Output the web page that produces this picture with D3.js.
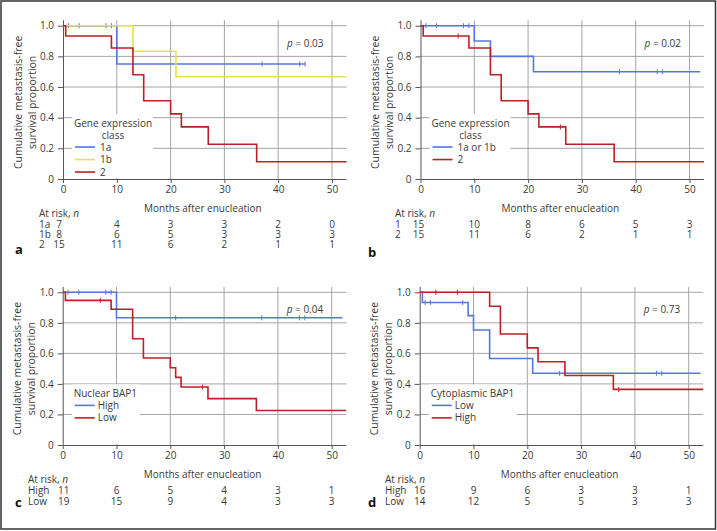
<!DOCTYPE html>
<html>
<head>
<meta charset="utf-8">
<script src="https://cdn.jsdelivr.net/npm/d3@7"></script>
<style>
  body { margin: 0; background: #fff; }
  svg { display: block; font-family: "Open Sans", sans-serif; }
</style>
</head>
<body>
<script>
var svgWidth = 717;
var svgHeight = 531;

// shared axes
var months = [0, 10, 20, 30, 40, 50];
var survTicks = [0, 0.2, 0.4, 0.6, 0.8, 1.0];
var maxMonth = 52.7;

// panel a: gene expression class (1a / 1b / 2)
var a1aSteps = [[0, 1], [10, 0.75]];
var a1aCensor = [1, 3, 8, 9, 37, 44, 45];
var a1aEnd = 45;
var a1bSteps = [[0, 1], [13, 0.833], [21, 0.667]];
var a1bCensor = [];
var a1bEnd = 52.7;
var a2Steps = [[0, 1], [0.5, 0.933], [9, 0.855], [13, 0.68], [15, 0.51], [20, 0.425], [22, 0.34], [27, 0.227], [36, 0.113]];
var a2Censor = [];
var a2End = 52.7;
var aRisk1a = [7, 4, 3, 3, 2, 0];
var aRisk1b = [8, 6, 5, 3, 3, 3];
var aRisk2 = [15, 11, 6, 2, 1, 1];

// panel b: 1a or 1b vs 2
var b1Steps = [[0, 1], [10, 0.9], [13, 0.8], [21, 0.7]];
var b1Censor = [1, 3, 8, 9, 37, 44, 45];
var b1End = 52;
var b2Steps = [[0, 1], [0.5, 0.933], [9, 0.855], [13, 0.68], [15, 0.51], [20, 0.425], [22, 0.34], [27, 0.227], [36, 0.113]];
var b2Censor = [7, 26];
var b2End = 52.7;
var bRisk1 = [15, 10, 8, 6, 5, 3];
var bRisk2 = [15, 11, 6, 2, 1, 1];

// panel c: nuclear BAP1
var cHighSteps = [[0, 1], [10, 0.833]];
var cHighCensor = [1, 3, 8, 9, 21, 37, 44, 45];
var cHighEnd = 52;
var cLowSteps = [[0, 1], [0.5, 0.947], [9, 0.889], [13, 0.696], [15, 0.57], [20, 0.506], [21, 0.443], [22, 0.38], [27, 0.304], [36, 0.226]];
var cLowCensor = [7, 26];
var cLowEnd = 52.7;
var cRiskHigh = [11, 6, 5, 4, 3, 1];
var cRiskLow = [19, 15, 9, 4, 3, 3];

// panel d: cytoplasmic BAP1
var dLowSteps = [[0, 1], [0.5, 0.933], [9, 0.847], [10, 0.753], [13, 0.566], [21, 0.47]];
var dLowCensor = [1, 2, 8, 26, 44, 45];
var dLowEnd = 52.2;
var dHighSteps = [[0, 1], [13, 0.909], [15, 0.727], [20, 0.636], [22, 0.545], [27, 0.455], [36, 0.364]];
var dHighCensor = [3, 7, 37];
var dHighEnd = 52.7;
var dRiskHigh = [16, 9, 6, 3, 3, 1];
var dRiskLow = [14, 12, 5, 5, 3, 3];

var blue = "#5677dc";
var yellow = "#e4e34c";
var red = "#bb2029";
var textColor = "#3a3a3a";
var fs = "10px";

var svg = d3.select("body")
  .append("svg")
  .attr("width", svgWidth)
  .attr("height", svgHeight);

svg.append("rect")
  .attr("x", 1).attr("y", 1)
  .attr("width", svgWidth - 2.5).attr("height", svgHeight - 3)
  .attr("fill", "none")
  .attr("stroke", "#333")
  .attr("stroke-width", 1.5);

var panels = [
  {
    letter: "a", x0: 63, bottom: 179, h: 153.3, p: "0.03",
    legendTitle: ["Gene expression", "class"], titleCentered: true, legendRight: 90,
    series: [
      { name: "1a", steps: a1aSteps, censor: a1aCensor, end: a1aEnd, color: blue },
      { name: "1b", steps: a1bSteps, censor: a1bCensor, end: a1bEnd, color: yellow },
      { name: "2", steps: a2Steps, censor: a2Censor, end: a2End, color: red }
    ],
    risk: [["1a", aRisk1a], ["1b", aRisk1b], ["2", aRisk2]],
    labelX: 39, firstShift: -4, rowGap: 10, letterX: 15, letterY: 249
  },
  {
    letter: "b", x0: 420.5, bottom: 179, h: 153.3, p: "0.02",
    legendTitle: ["Gene expression", "class"], titleCentered: true, legendRight: 90,
    series: [
      { name: "1a or 1b", steps: b1Steps, censor: b1Censor, end: b1End, color: blue },
      { name: "2", steps: b2Steps, censor: b2Censor, end: b2End, color: red }
    ],
    risk: [["1", bRisk1], ["2", bRisk2]],
    labelX: 395, firstShift: -2, rowGap: 10, letterX: 368, letterY: 252
  },
  {
    letter: "c", x0: 62.7, bottom: 445, h: 152.7, p: "0.04",
    legendTitle: ["Nuclear BAP1"], titleCentered: false, legendRight: 77,
    series: [
      { name: "High", steps: cHighSteps, censor: cHighCensor, end: cHighEnd, color: blue },
      { name: "Low", steps: cLowSteps, censor: cLowCensor, end: cLowEnd, color: red }
    ],
    risk: [["High", cRiskHigh], ["Low", cRiskLow]],
    labelX: 28, firstShift: 1, rowGap: 11, letterX: 15, letterY: 502
  },
  {
    letter: "d", x0: 419.7, bottom: 445, h: 152.7, p: "0.73",
    legendTitle: ["Cytoplasmic BAP1"], titleCentered: false, legendRight: 97,
    series: [
      { name: "Low", steps: dLowSteps, censor: dLowCensor, end: dLowEnd, color: blue },
      { name: "High", steps: dHighSteps, censor: dHighCensor, end: dHighEnd, color: red }
    ],
    risk: [["High", dRiskHigh], ["Low", dRiskLow]],
    labelX: 385, firstShift: 0, rowGap: 11, letterX: 368, letterY: 502
  }
];

function survivalAt(steps, t) {
  var s = steps[0][1];
  steps.forEach(function(d) { if (d[0] <= t) s = d[1]; });
  return s;
}

panels.forEach(function(pn) {
  var xScale = d3.scaleLinear().domain([0, maxMonth]).range([pn.x0, pn.x0 + maxMonth * 5.38]);
  var yScale = d3.scaleLinear().domain([0, 1]).range([pn.bottom, pn.bottom - pn.h]);
  var yTop = yScale(1.035);
  var g = svg.append("g");

  // grid
  g.selectAll(".vgrid")
    .data(months.slice(1))
    .enter().append("line")
    .attr("x1", d => xScale(d)).attr("x2", d => xScale(d))
    .attr("y1", pn.bottom).attr("y2", yTop)
    .attr("stroke", "#a4a4a4").attr("stroke-width", 1);
  g.selectAll(".hgrid")
    .data(survTicks.slice(1))
    .enter().append("line")
    .attr("x1", pn.x0).attr("x2", xScale(maxMonth))
    .attr("y1", d => yScale(d)).attr("y2", d => yScale(d))
    .attr("stroke", "#a4a4a4").attr("stroke-width", 1);

  // legend backing box hides the grid
  var titleY = pn.legendTitle.length == 2 ? yScale(0.365) : yScale(0.338);
  g.append("rect")
    .attr("x", pn.x0 + 9)
    .attr("y", titleY - 9)
    .attr("width", pn.legendRight - 9)
    .attr("height", pn.bottom - 1 - (titleY - 9))
    .attr("fill", "#fff");

  // axes
  var xAxis = d3.axisBottom(xScale).tickValues(months).tickSize(4).tickPadding(3);
  var yAxis = d3.axisLeft(yScale).tickValues(survTicks).tickSize(5).tickPadding(4)
    .tickFormat(d => d == 0 ? "0" : d3.format(".1f")(d));

  var gx = g.append("g")
    .attr("transform", `translate(0, ${pn.bottom})`)
    .call(xAxis);
  gx.select(".domain").attr("d", `M${pn.x0},0.5H${xScale(maxMonth)}`);
  var gy = g.append("g")
    .attr("transform", `translate(${pn.x0}, 0)`)
    .call(yAxis);
  gy.select(".domain").attr("d", `M0.5,${pn.bottom}V${yTop}`);
  [gx, gy].forEach(function(ax) {
    ax.select(".domain").attr("stroke", "#555");
    ax.selectAll(".tick line").attr("stroke", "#555");
    ax.selectAll("text").attr("fill", textColor).style("font-size", fs)
      .style("font-family", "'Open Sans', sans-serif");
  });

  // curves
  var line = d3.line()
    .x(d => xScale(d[0]))
    .y(d => yScale(d[1]))
    .curve(d3.curveStepAfter);
  pn.series.forEach(function(s) {
    var pts = s.steps.concat([[s.end, s.steps[s.steps.length - 1][1]]]);
    g.append("path")
      .attr("d", line(pts))
      .attr("fill", "none")
      .attr("stroke", s.color)
      .attr("stroke-width", 1.6);
    g.selectAll(null)
      .data(s.censor)
      .enter().append("line")
      .attr("x1", d => xScale(d)).attr("x2", d => xScale(d))
      .attr("y1", d => yScale(survivalAt(s.steps, d)) - 2.5)
      .attr("y2", d => yScale(survivalAt(s.steps, d)) + 2.5)
      .attr("stroke", s.color)
      .attr("stroke-width", 1);
  });

  // legend
  pn.legendTitle.forEach(function(t, i) {
    g.append("text")
      .attr("x", pn.titleCentered ? pn.x0 + 50 : pn.x0 + 11)
      .attr("y", titleY + i * 12)
      .attr("dy", "0.35em")
      .attr("text-anchor", pn.titleCentered ? "middle" : "start")
      .attr("fill", textColor)
      .style("font-size", fs)
      .text(t);
  });
  var entryTop = titleY + pn.legendTitle.length * 12;
  pn.series.forEach(function(s, i) {
    var yy = entryTop + i * 12.5;
    g.append("line")
      .attr("x1", pn.x0 + 12).attr("x2", pn.x0 + 32)
      .attr("y1", yy).attr("y2", yy)
      .attr("stroke", s.color).attr("stroke-width", 1.6);
    g.append("text")
      .attr("x", pn.titleCentered ? pn.x0 + 37 : pn.x0 + 35)
      .attr("y", yy)
      .attr("dy", "0.35em")
      .attr("fill", textColor)
      .style("font-size", fs)
      .text(s.name);
  });

  // p value
  var pText = g.append("text")
    .attr("x", pn.x0 + 224)
    .attr("y", yScale(0.885))
    .attr("dy", "0.35em")
    .attr("fill", textColor)
    .style("font-size", fs);
  pText.append("tspan").style("font-style", "italic").text("p");
  pText.append("tspan").text(" = " + pn.p);

  // y label
  var yMid = yScale(0.5);
  ["Cumulative metastasis-free", "survival proportion"].forEach(function(t, i) {
    g.append("text")
      .attr("transform", `translate(${pn.x0 - 45 + i * 14}, ${yMid}) rotate(-90)`)
      .attr("text-anchor", "middle")
      .attr("dy", "0.35em")
      .attr("fill", textColor)
      .style("font-size", "10.5px")
      .text(t);
  });

  // x label
  g.append("text")
    .attr("x", xScale(26))
    .attr("y", pn.bottom + 29)
    .attr("dy", "0.35em")
    .attr("text-anchor", "middle")
    .attr("fill", textColor)
    .style("font-size", fs)
    .text("Months after enucleation");

  // at risk table
  var ar = g.append("text")
    .attr("x", pn.labelX)
    .attr("y", pn.bottom + 34)
    .attr("dy", "0.35em")
    .attr("fill", textColor)
    .style("font-size", fs);
  ar.append("tspan").text("At risk, ");
  ar.append("tspan").style("font-style", "italic").text("n");

  pn.risk.forEach(function(r, i) {
    var yy = pn.bottom + 45 + i * pn.rowGap;
    g.append("text")
      .attr("x", pn.labelX).attr("y", yy).attr("dy", "0.35em")
      .attr("fill", textColor).style("font-size", fs)
      .text(r[0]);
    g.selectAll(null)
      .data(r[1])
      .enter().append("text")
      .attr("x", (d, j) => xScale(months[j]) + (j == 0 ? pn.firstShift : 0))
      .attr("y", yy).attr("dy", "0.35em")
      .attr("text-anchor", "middle")
      .attr("fill", textColor).style("font-size", fs)
      .text(d => d);
  });

  svg.append("text")
    .attr("x", pn.letterX).attr("y", pn.letterY).attr("dy", "0.35em")
    .attr("font-weight", "bold")
    .attr("fill", "#111")
    .style("font-size", "13px")
    .text(pn.letter);
});
</script>
</body>
</html>
